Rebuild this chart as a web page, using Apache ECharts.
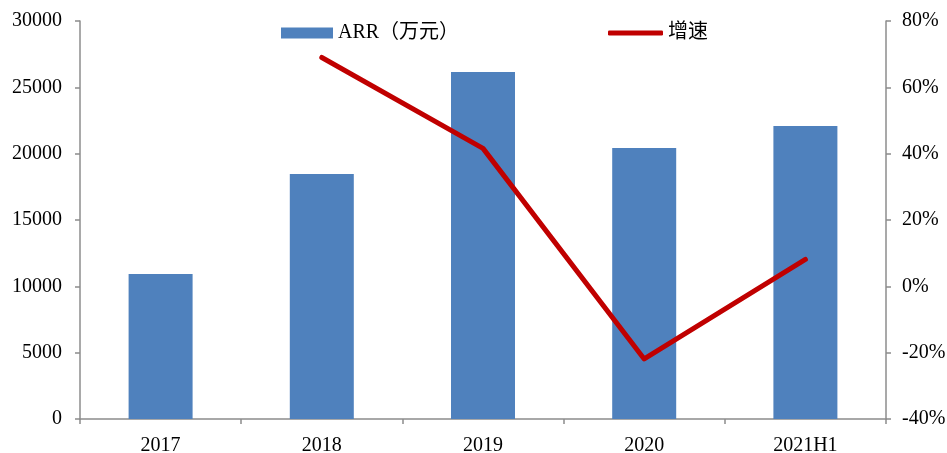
<!DOCTYPE html>
<html>
<head>
<meta charset="utf-8">
<script src="https://cdn.jsdelivr.net/npm/echarts@6/dist/echarts.min.js"></script>
<style>
  html, body { margin: 0; padding: 0; background: #fff; }
  #chart { width: 947px; height: 453px; }
</style>
</head>
<body>
<div id="chart"></div>
<script>
// ARR by period (万元) and year-on-year growth (%)
const categories = ['2017', '2018', '2019', '2020', '2021H1'];
const arrValues = [10930, 18470, 26160, 20430, 22090];
const growthValues = [null, 69.0, 41.6, -21.9, 8.1];
const leftTicks = { min: 0, max: 30000, step: 5000 };
const rightTicks = { min: -40, max: 80, step: 20 };

const FONT = '"Liberation Serif", "Times New Roman", "Noto Sans CJK SC", serif';
const AXIS_GRAY = '#8c8c8c';

const chart = echarts.init(document.getElementById('chart'));
chart.setOption({
  animation: false,
  backgroundColor: '#ffffff',
  textStyle: { fontFamily: FONT },
  grid: { left: 80, right: 61, top: 21, bottom: 34, containLabel: false, outerBoundsMode: 'none' },
  legend: [
    {
      data: ['ARR（万元）'],
      left: 276, top: 18,
      itemWidth: 52, itemHeight: 11, itemGap: 6,
      icon: 'rect',
      textStyle: { fontFamily: FONT, fontSize: 20, color: '#000' }
    },
    {
      data: ['增速'],
      left: 603, top: 18,
      itemWidth: 55, itemHeight: 5, itemGap: 6,
      icon: 'roundRect',
      textStyle: { fontFamily: FONT, fontSize: 20, color: '#000' }
    }
  ],
  xAxis: {
    type: 'category',
    data: categories,
    boundaryGap: true,
    axisLine: { lineStyle: { color: AXIS_GRAY, width: 1.5 } },
    axisTick: { show: true, interval: 0, alignWithLabel: false, length: 5, lineStyle: { color: AXIS_GRAY, width: 1.5 } },
    axisLabel: { interval: 0, margin: 17, fontFamily: FONT, fontSize: 20, color: '#000' }
  },
  yAxis: [
    {
      type: 'value',
      position: 'left',
      min: leftTicks.min, max: leftTicks.max, interval: leftTicks.step,
      splitLine: { show: false },
      axisLine: { show: true, lineStyle: { color: AXIS_GRAY, width: 1.5 } },
      axisTick: { show: true, length: 5, lineStyle: { color: AXIS_GRAY, width: 1.5 } },
      axisLabel: { margin: 18, formatter: (v) => String(v), fontFamily: FONT, fontSize: 20, color: '#000' }
    },
    {
      type: 'value',
      position: 'right',
      min: rightTicks.min, max: rightTicks.max, interval: rightTicks.step,
      splitLine: { show: false },
      axisLine: { show: true, lineStyle: { color: AXIS_GRAY, width: 1.5 } },
      axisTick: { show: true, length: 5, lineStyle: { color: AXIS_GRAY, width: 1.5 } },
      axisLabel: { margin: 16, formatter: '{value}%', fontFamily: FONT, fontSize: 20, color: '#000' }
    }
  ],
  series: [
    {
      name: 'ARR（万元）',
      type: 'bar',
      yAxisIndex: 0,
      data: arrValues,
      barWidth: 64,
      itemStyle: { color: '#4F81BD' }
    },
    {
      name: '增速',
      type: 'line',
      yAxisIndex: 1,
      data: growthValues,
      showSymbol: false,
      symbol: 'none',
      connectNulls: false,
      lineStyle: { color: '#C00000', width: 5, cap: 'round', join: 'round' },
      itemStyle: { color: '#C00000' }
    }
  ]
});
</script>
</body>
</html>
